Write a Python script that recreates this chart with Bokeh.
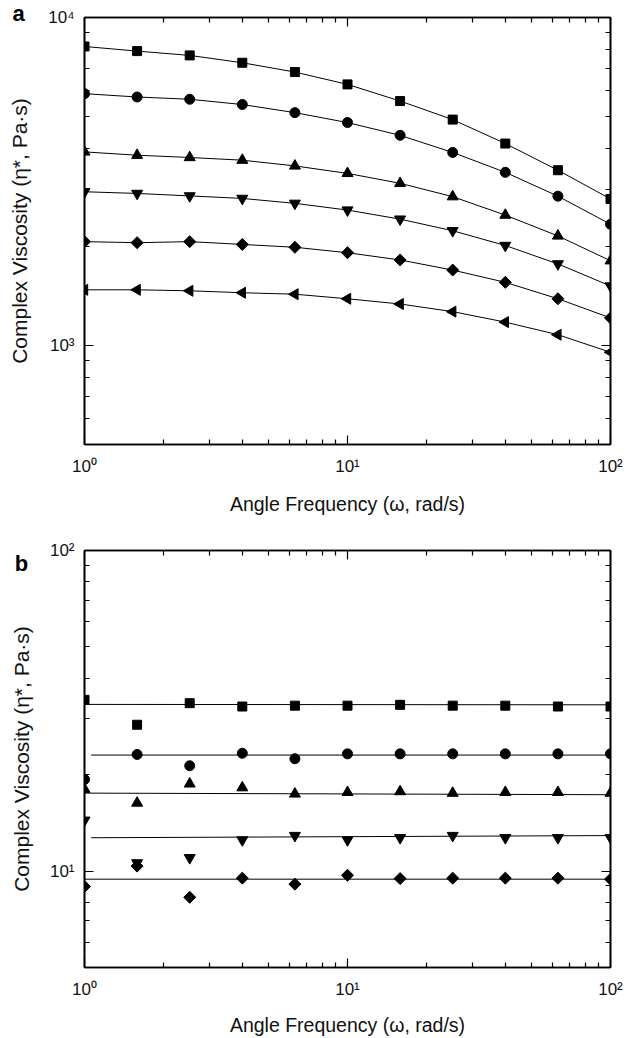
from bokeh.plotting import figure
from bokeh.models import LogAxis, FixedTicker, Range1d, Label
from bokeh.layouts import column
from bokeh.embed import file_html
from bokeh.resources import INLINE

# ---------------- data ----------------
freq = [1.0, 1.585, 2.512, 3.981, 6.310, 10.0, 15.85, 25.12, 39.81, 63.10, 100.0]

# panel a (Pa·s)
a_square = [8160, 7900, 7665, 7280, 6820, 6255, 5565, 4885, 4130, 3425, 2800]
a_circle = [5860, 5725, 5635, 5430, 5130, 4785, 4375, 3880, 3375, 2855, 2345]
a_triangle = [3895, 3805, 3745, 3675, 3530, 3350, 3125, 2845, 2500, 2160, 1815]
a_down = [2945, 2910, 2860, 2810, 2715, 2590, 2430, 2240, 2020, 1775, 1520]
a_diamond = [2075, 2060, 2075, 2035, 1995, 1920, 1825, 1700, 1560, 1390, 1215]
a_left = [1480, 1480, 1470, 1450, 1435, 1390, 1340, 1270, 1180, 1080, 955]

# panel b (Pa·s)
b_square = [34.2, 28.6, 33.4, 32.6, 32.8, 32.8, 33.0, 32.8, 32.8, 32.6, 32.6]
b_circle = [19.3, 23.1, 21.3, 23.3, 22.4, 23.2, 23.2, 23.2, 23.2, 23.2, 23.2]
b_triangle = [18.0, 16.3, 18.7, 18.2, 17.4, 17.6, 17.7, 17.5, 17.6, 17.6, 17.5]
b_down = [14.4, 10.6, 11.0, 12.5, 12.9, 12.5, 12.7, 12.9, 12.7, 12.7, 12.7]
b_diamond = [8.95, 10.36, 8.28, 9.5, 9.1, 9.7, 9.47, 9.5, 9.5, 9.5, 9.43]

# fitted lines in panel b: start freq, level at start, level at end (100 rad/s)
b_fit_start = [1.0, 1.06, 1.0, 1.06, 1.0]
b_fit_left = [33.1, 23.0, 17.5, 12.7, 9.43]
b_fit_right = [33.0, 23.0, 17.3, 12.9, 9.43]

x_major = [1, 10, 100]
x_minor = [2, 3, 4, 5, 6, 7, 8, 9, 20, 30, 40, 50, 60, 70, 80, 90]
x_labels = {1: "10\u2070", 10: "10\u00b9", 100: "10\u00b2"}

a_y_major = [1000, 10000]
a_y_minor = [500, 600, 700, 800, 900, 2000, 3000, 4000, 5000, 6000, 7000, 8000, 9000]
a_y_labels = {1000: "10\u00b3", 10000: "10\u2074"}

b_y_major = [10, 100]
b_y_minor = [5, 6, 7, 8, 9, 20, 30, 40, 50, 60, 70, 80, 90]
b_y_labels = {10: "10\u00b9", 100: "10\u00b2"}

x_title = "Angle Frequency (\u03c9, rad/s)"
y_title = "Complex Viscosity (\u03b7*, Pa\u00b7s)"

FONT = "Liberation Sans"
FIG_W = 630


def style_axis(ax, major, minor, labels, show_labels=True):
    ax.ticker = FixedTicker(ticks=major, minor_ticks=minor)
    ax.major_tick_in = 9
    ax.major_tick_out = 0
    ax.minor_tick_in = 5
    ax.minor_tick_out = 0
    ax.major_tick_line_color = "black"
    ax.minor_tick_line_color = "black"
    ax.major_tick_line_width = 1.2
    ax.minor_tick_line_width = 1.2
    ax.axis_line_color = "black"
    ax.axis_line_width = 1.6
    if show_labels:
        ax.major_label_overrides = labels
        ax.major_label_text_font = FONT
        ax.major_label_text_font_size = "17px"
        ax.major_label_text_color = "#111111"
        ax.axis_label_text_font = FONT
        ax.axis_label_text_font_style = "normal"
        ax.axis_label_text_color = "#111111"
    else:
        ax.major_label_text_font_size = "1px"
        ax.major_label_text_alpha = 0.0
        ax.major_label_standoff = 0
        ax.axis_label_standoff = 0


def make_panel(height, y_rng, y_major, y_minor, y_labels, border_top, border_bottom,
               tick_standoff, title_standoff):
    p = figure(width=FIG_W, height=height, x_axis_type="log", y_axis_type="log",
               x_range=Range1d(1, 100), y_range=Range1d(*y_rng),
               output_backend="svg", toolbar_location=None,
               min_border_left=84, min_border_right=FIG_W - 610,
               min_border_top=border_top, min_border_bottom=border_bottom)
    p.grid.visible = False
    p.outline_line_color = "black"
    p.outline_line_width = 1.6
    p.background_fill_color = "white"
    p.border_fill_color = "white"

    xa = p.xaxis[0]
    style_axis(xa, x_major, x_minor, x_labels)
    xa.axis_label = x_title
    xa.axis_label_text_font_size = "19.5px"
    xa.major_label_standoff = tick_standoff
    xa.axis_label_standoff = title_standoff

    ya = p.yaxis[0]
    style_axis(ya, y_major, y_minor, y_labels)
    ya.axis_label = y_title
    ya.axis_label_text_font_size = "21px"
    ya.major_label_standoff = 10
    ya.axis_label_standoff = 14

    top = LogAxis()
    style_axis(top, x_major, x_minor, None, show_labels=False)
    p.add_layout(top, "above")
    right = LogAxis()
    style_axis(right, y_major, y_minor, None, show_labels=False)
    p.add_layout(right, "right")
    return p


# ---------------- panel a ----------------
pa = make_panel(525, (500, 10000), a_y_major, a_y_minor, a_y_labels, 17, 81, 12, 14)
pa.title.text = "a"
pa.title.align = "left"
pa.title.offset = -72
pa.title.vertical_align = "top"
pa.title.standoff = -21
pa.title.text_font = FONT
pa.title.text_font_size = "22px"
pa.title.text_font_style = "bold"
pa.title.text_color = "black"

series_a = [(a_square, "square", 9, 0.0), (a_circle, "circle", 10, 0.0),
            (a_triangle, "triangle", 11, 0.0), (a_down, "inverted_triangle", 11, 0.0),
            (a_diamond, "square", 8.5, 0.7853982), (a_left, "triangle", 11, 1.5707963)]
for vals, marker, size, ang in series_a:
    pa.line(freq, vals, line_color="black", line_width=1)
    pa.scatter(freq, vals, marker=marker, size=size, angle=ang, color="black")

# ---------------- panel b ----------------
pb = make_panel(513, (5, 100), b_y_major, b_y_minor, b_y_labels, 25, 64, 12, 12)
pb.add_layout(Label(x=21, y=38, x_units="canvas", y_units="canvas", text="b",
                    text_font=FONT, text_font_style="bold", text_font_size="22px",
                    text_align="center", text_baseline="middle", text_color="black"),
              "above")

series_b = [(b_square, "square", 9, 0.0), (b_circle, "circle", 10, 0.0),
            (b_triangle, "triangle", 11, 0.0), (b_down, "inverted_triangle", 11, 0.0),
            (b_diamond, "square", 8.5, 0.7853982)]
for i, (vals, marker, size, ang) in enumerate(series_b):
    pb.line([b_fit_start[i], 100.0], [b_fit_left[i], b_fit_right[i]],
            line_color="black", line_width=1)
    pb.scatter(freq, vals, marker=marker, size=size, angle=ang, color="black")

layout = column(pa, pb, spacing=0)
open("out.html", "w").write(file_html(layout, INLINE))
